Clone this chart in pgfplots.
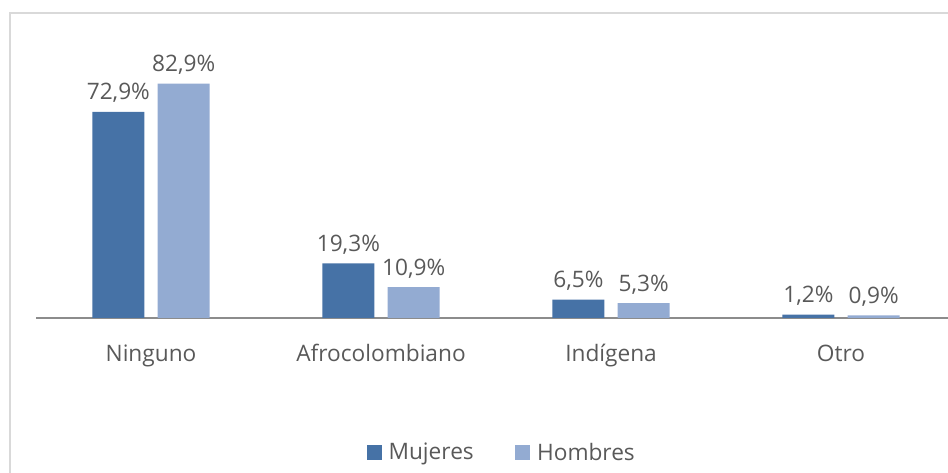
\documentclass[border=0pt]{standalone}
\usepackage{fontspec}
\setmainfont{Open Sans}
\usepackage{pgfplots}
\pgfplotsset{compat=1.18}

\definecolor{mujeres}{HTML}{4672A6}
\definecolor{hombres}{HTML}{93ABD2}
\definecolor{txt}{HTML}{595959}
\definecolor{marco}{HTML}{D9D9D9}
\definecolor{eje}{HTML}{8C8C8C}

\begin{document}
\begin{tikzpicture}
\begin{axis}[
  at={(0,0)}, anchor=south west,
  scale only axis,
  width=684pt, height=212pt,
  xmin=-0.5, xmax=3.465,
  ymin=0, ymax=100,
  ybar=10pt, bar width=39pt,
  axis y line=none,
  axis x line*=bottom,
  x axis line style={eje, line width=1.5pt, -},
  xtick={0,1,2,3},
  xticklabels={Ninguno,Afrocolombiano,Indígena,Otro},
  major tick length=0pt,
  xticklabel style={anchor=base, yshift=-33pt, text=txt,
    font=\fontsize{17}{20}\selectfont},
  nodes near coords={\pgfmathprintnumber[fixed,fixed zerofill,precision=1,use comma,assume math mode=true]{\pgfplotspointmeta}\%},
  every node near coord/.append style={anchor=base, yshift=9pt, text=txt,
    font=\fontsize{17}{20}\selectfont, inner sep=0pt},
  legend columns=2,
  legend style={at={(0.511,-0.476)}, anchor=center, draw=none, fill=none,
    font=\fontsize{17}{20}\selectfont, text=txt,
    /tikz/every even column/.append style={column sep=29pt}},
  legend image code/.code={\fill[#1] (0pt,-5.6pt) rectangle (11.25pt,5.6pt);
    \path (14.5pt,0pt);},
  clip=false,
]
\addplot[draw=none, fill=mujeres] coordinates {(0,72.9) (1,19.3) (2,6.5) (3,1.2)};
\addplot[draw=none, fill=hombres] coordinates {(0,82.9) (1,10.9) (2,5.3) (3,0.9)};
\legend{Mujeres,Hombres}
\end{axis}
% page = reference frame of 948 x 473 px (1 px = 0.75pt), axis origin at px (36,318)
\pgfresetboundingbox
\useasboundingbox (-27pt,-116.25pt) rectangle ++(711pt,354.75pt);
\draw[marco, line width=1.6pt] (-19.5pt,-130pt) -- (-19.5pt,228.75pt) -- (700pt,228.75pt);
\end{tikzpicture}
\end{document}
